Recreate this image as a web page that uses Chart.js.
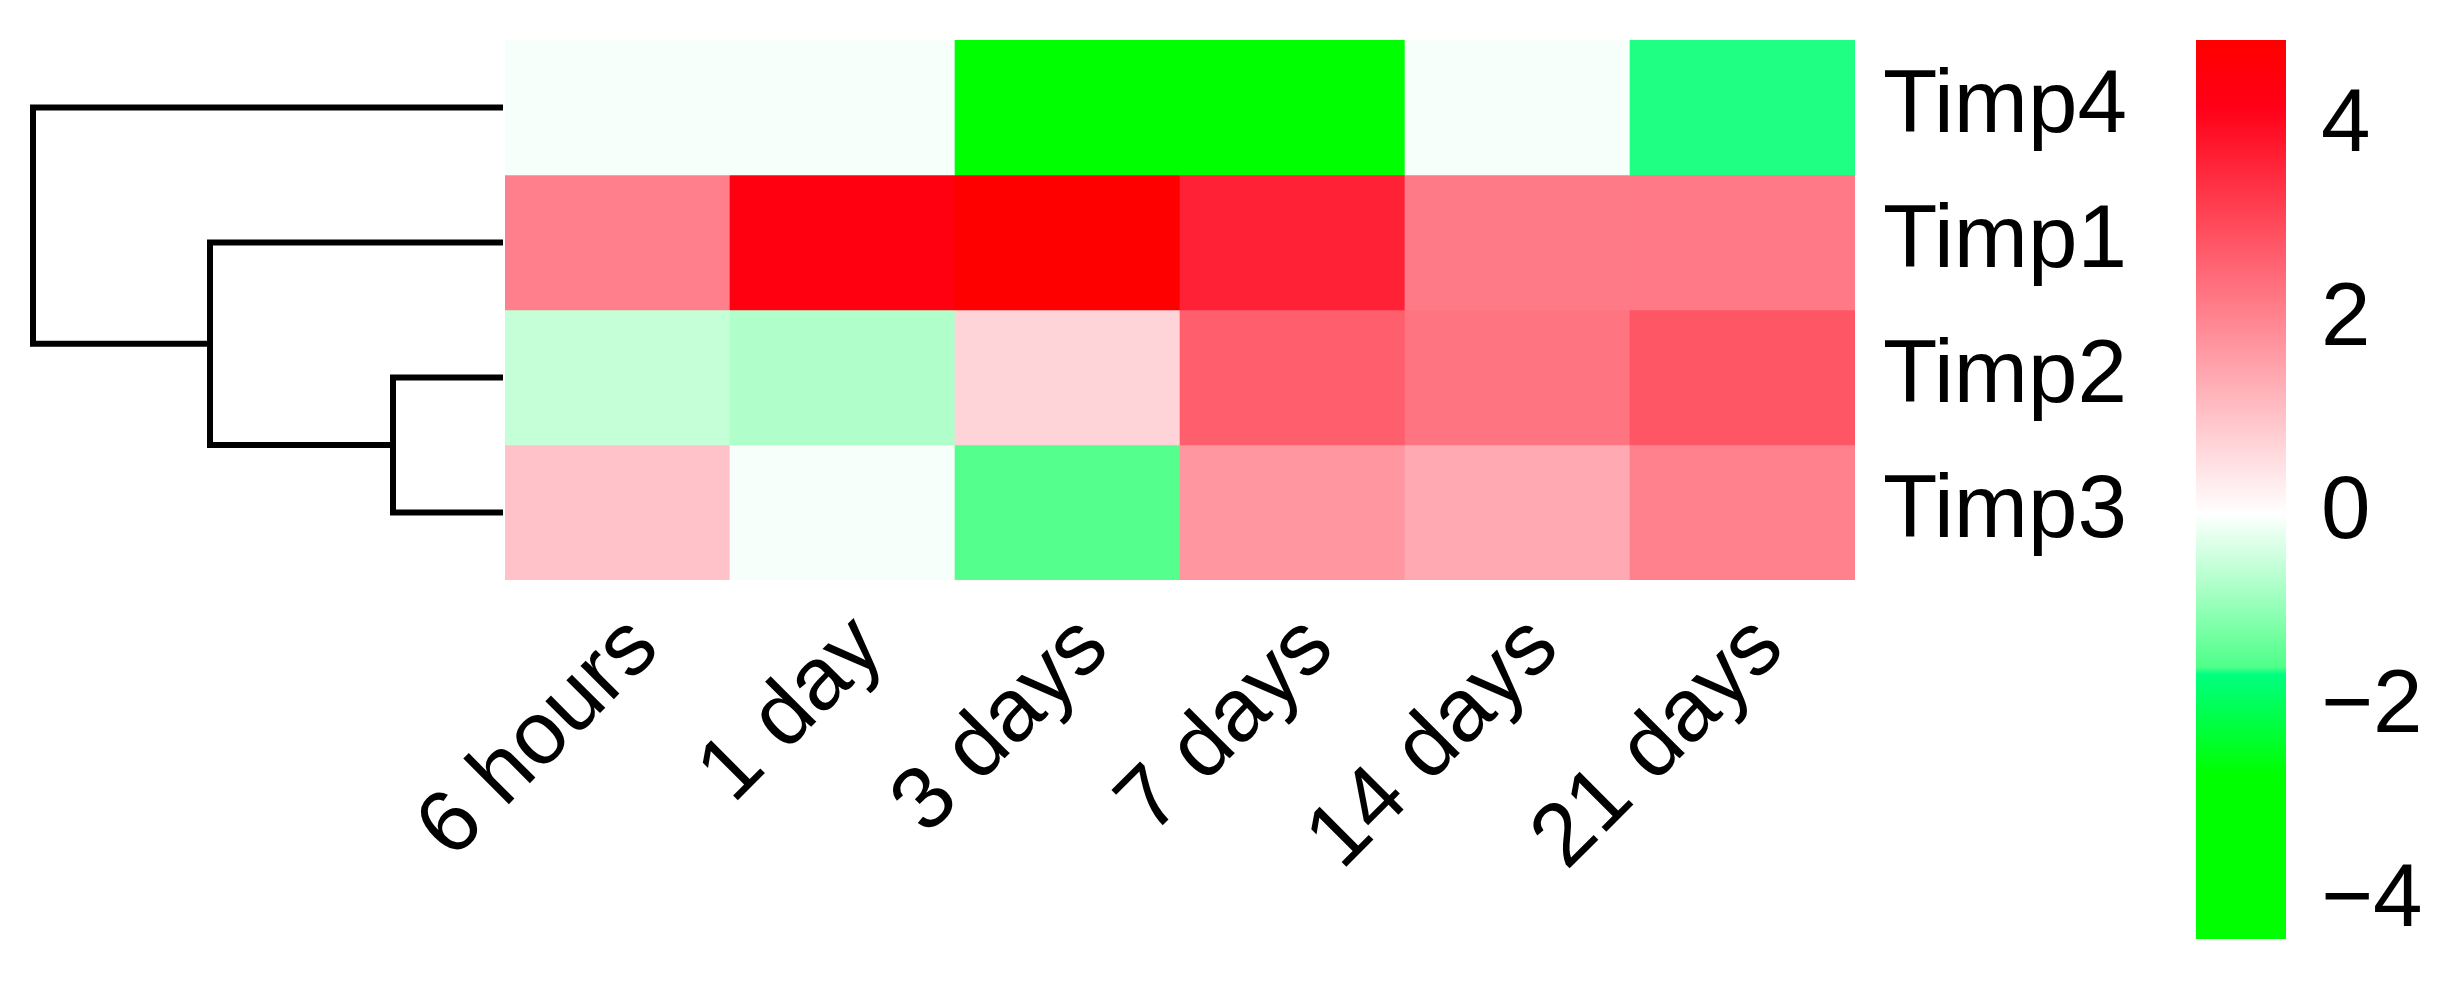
<!DOCTYPE html>
<html><head><meta charset="utf-8">
<script src="https://cdn.jsdelivr.net/npm/chart.js@4.4.1/dist/chart.umd.min.js"></script>
<style>
html,body{margin:0;padding:0;background:#fff;}
#wrap{position:relative;width:2453px;height:993px;background:#fff;}
canvas{position:absolute;left:0;top:0;}
</style></head><body>
<div id="wrap">
<canvas id="dendro" width="2453" height="993"></canvas>
<canvas id="heat" width="2453" height="993"></canvas>
<canvas id="legend" width="2453" height="993"></canvas>
</div>
<script>
// ---- data ----
const rowLabels = ['Timp4', 'Timp1', 'Timp2', 'Timp3'];
const colLabels = ['6 hours', '1 day', '3 days', '7 days', '14 days', '21 days'];
const timp4 = [-0.07, -0.07, -4.39, -4.2, -0.07, -1.63];
const timp1 = [2.09, 4.43, 4.89, 3.64, 2.19, 2.2];
const timp2 = [-0.53, -0.71, 0.71, 2.65, 2.29, 2.78];
const timp3 = [1.0, -0.07, -1.54, 1.73, 1.4, 2.08];
// hclust-style merges (negative = leaf index, 1-based, in display order)
const dendroMerge = [[-3, -4], [-2, 1], [-1, 2]];
const dendroHeight = [1.10, 2.93, 4.70];
const legendTicks = [-4, -2, 0, 2, 4];
const legendRange = [-4.39, 4.89];

const rowValues = [timp4, timp1, timp2, timp3];

// ---- colour scale (style) ----
const COLOR_STOPS = [
  [-4.39, [0, 255, 0]],
  [-2.7, [0, 255, 0]],
  [-1.66, [0, 255, 128]],
  [-1.58, [80, 255, 138]],
  [0, [255, 255, 255]],
  [4.2, [255, 0, 24]],
  [4.89, [255, 0, 0]]
];
function colorFor(v) {
  if (v <= COLOR_STOPS[0][0]) return 'rgb(' + COLOR_STOPS[0][1].join(',') + ')';
  for (let i = 1; i < COLOR_STOPS.length; i++) {
    const [v1, c1] = COLOR_STOPS[i];
    const [v0, c0] = COLOR_STOPS[i - 1];
    if (v <= v1) {
      const t = (v - v0) / (v1 - v0);
      const c = c0.map((a, k) => Math.round(a + (c1[k] - a) * t));
      return 'rgb(' + c.join(',') + ')';
    }
  }
  return 'rgb(' + COLOR_STOPS[COLOR_STOPS.length - 1][1].join(',') + ')';
}

Chart.defaults.font.family = "'Liberation Sans', Arial, Helvetica, sans-serif";
Chart.defaults.color = '#000';
Chart.defaults.animation = false;

const W = 2453, H = 993;
const FONT = 89;
const common = {
  responsive: false,
  devicePixelRatio: 1,
  animation: false,
  events: [],
  plugins: { legend: { display: false }, tooltip: { enabled: false } }
};

// ---- dendrogram ----
const nodes = [];
function nodePos(id) {
  if (id < 0) return { x: 0, y: -id - 1 };
  return nodes[id - 1];
}
const dendroSets = dendroMerge.map((m, i) => {
  const a = nodePos(m[0]), b = nodePos(m[1]);
  const h = dendroHeight[i];
  nodes.push({ x: h, y: (a.y + b.y) / 2 });
  return {
    data: [{ x: a.x, y: a.y }, { x: h, y: a.y }, { x: h, y: b.y }, { x: b.x, y: b.y }],
    showLine: true, borderColor: '#000', borderWidth: 6, pointRadius: 0,
    borderJoinStyle: 'miter', borderCapStyle: 'butt', tension: 0, clip: false
  };
});
new Chart(document.getElementById('dendro'), {
  type: 'scatter',
  data: { datasets: dendroSets },
  options: Object.assign({}, common, {
    layout: { autoPadding: false, padding: { left: 33, right: W - 503, top: 40, bottom: H - 580 } },
    scales: {
      x: { type: 'linear', min: 0, max: Math.max(...dendroHeight), reverse: true, display: false },
      y: { type: 'linear', min: -0.5, max: rowLabels.length - 0.5, reverse: true, display: false }
    }
  })
});

// ---- heatmap ----
const heatSets = rowLabels.map((r, i) => ({
  label: r,
  data: colLabels.map(() => [i - 0.5, i + 0.5]),
  backgroundColor: rowValues[i].map(colorFor),
  borderWidth: 0,
  barPercentage: 1,
  categoryPercentage: 1,
  grouped: false,
  xAxisID: 'x',
  yAxisID: 'y'
}));
new Chart(document.getElementById('heat'), {
  type: 'bar',
  data: { labels: colLabels, datasets: heatSets },
  options: Object.assign({}, common, {
    layout: { autoPadding: false, padding: { left: 505, right: 0, top: 40, bottom: 0 } },
    scales: {
      x: {
        type: 'category', position: 'bottom', offset: true,
        grid: { display: false, drawTicks: false }, border: { display: false },
        ticks: { font: { size: FONT }, color: '#000', minRotation: 45, maxRotation: 45,
                 autoSkip: false, labelOffset: 27, padding: 16 },
        afterFit: s => { s.height = H - 580; s.paddingLeft = 0; s.paddingRight = 0; }
      },
      y: { type: 'linear', min: -0.5, max: rowLabels.length - 0.5, reverse: true, display: false },
      yr: {
        type: 'category', labels: rowLabels, position: 'right', offset: true,
        grid: { display: false, drawTicks: false }, border: { display: false },
        ticks: { font: { size: FONT }, color: '#000', padding: 28, autoSkip: false },
        afterFit: s => { s.width = W - 1855; s.paddingTop = 0; s.paddingBottom = 0; }
      }
    }
  })
});

// ---- colour legend ----
new Chart(document.getElementById('legend'), {
  type: 'bar',
  data: {
    labels: ['scale'],
    datasets: [{
      data: [[legendRange[0], legendRange[1]]],
      borderWidth: 0, barPercentage: 1, categoryPercentage: 1,
      backgroundColor: (c) => {
        const ch = c.chart;
        if (!ch.chartArea) return 'rgba(0,0,0,0)';
        const ys = ch.scales.y;
        const p0 = ys.getPixelForValue(legendRange[0]);
        const p1 = ys.getPixelForValue(legendRange[1]);
        const g = ch.ctx.createLinearGradient(0, p0, 0, p1);
        const span = legendRange[1] - legendRange[0];
        COLOR_STOPS.forEach(([v, rgb]) => {
          const o = Math.min(1, Math.max(0, (v - legendRange[0]) / span));
          g.addColorStop(o, 'rgb(' + rgb.join(',') + ')');
        });
        return g;
      }
    }]
  },
  options: Object.assign({}, common, {
    layout: { autoPadding: false, padding: { left: 2196, right: 0, top: 40, bottom: H - 939 } },
    scales: {
      x: { type: 'category', display: false },
      y: {
        type: 'linear', min: legendRange[0], max: legendRange[1], position: 'right',
        grid: { display: false, drawTicks: false }, border: { display: false },
        afterBuildTicks: s => { s.ticks = legendTicks.map(v => ({ value: v })); },
        ticks: {
          font: { size: FONT }, color: '#000', padding: 35,
          callback: v => (v < 0 ? '\u2212' + Math.abs(v) : String(v))
        },
        afterFit: s => { s.width = W - 2286; s.paddingTop = 0; s.paddingBottom = 0; }
      }
    }
  })
});
</script>
</body></html>
